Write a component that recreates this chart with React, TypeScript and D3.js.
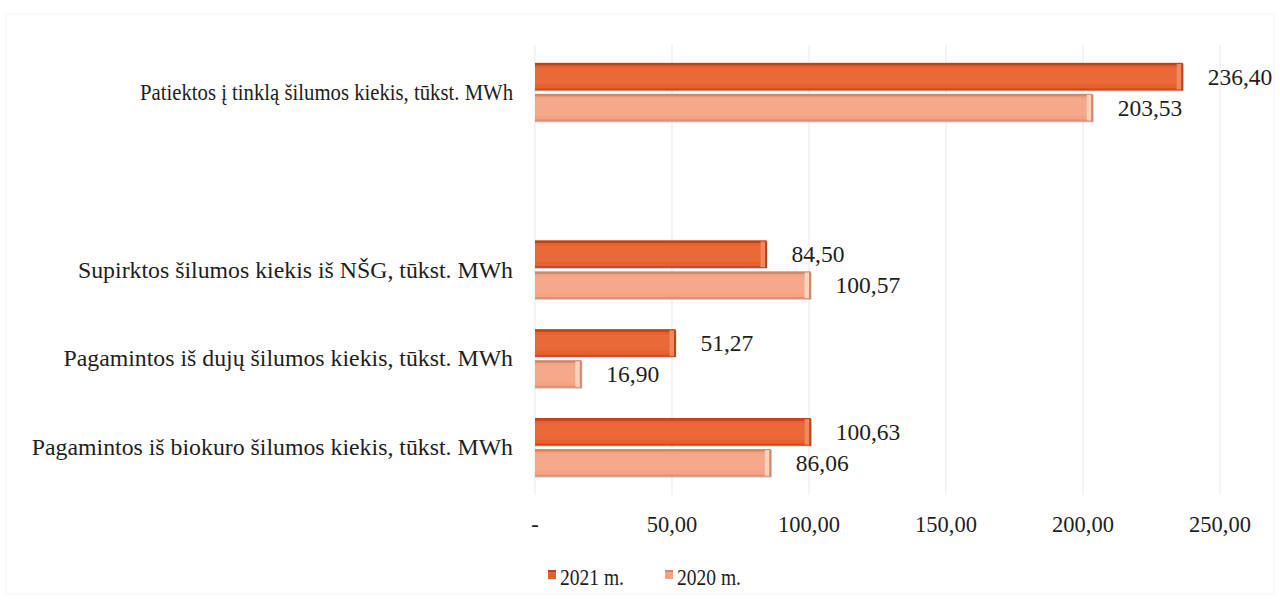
import React from "react";
import * as d3 from "d3";

const categories = [
  "Patiektos į tinklą šilumos kiekis, tūkst. MWh",
  "",
  "Supirktos šilumos kiekis iš NŠG, tūkst. MWh",
  "Pagamintos iš dujų šilumos kiekis, tūkst. MWh",
  "Pagamintos iš biokuro šilumos kiekis, tūkst. MWh",
];
const values2021: (number | null)[] = [236.4, null, 84.5, 51.27, 100.63];
const values2020: (number | null)[] = [203.53, null, 100.57, 16.9, 86.06];
const seriesNames = ["2021 m.", "2020 m."];
const xTicks = [0, 50, 100, 150, 200, 250];

// widths of the (horizontally squeezed) scanned labels, null = natural width
const labelLengths: (number | null)[] = [373, null, null, null, null];

const W = 1280;
const H = 600;
const FONT = "'Liberation Serif', 'Times New Roman', serif";
const colors = [
  { main: "#E8602E", light: "#EF7A4C", edge: "#B9451C", cap: "#F08A5E" },
  { main: "#F5A383", light: "#F8B598", edge: "#CF8A6E", cap: "#FBD2BE" },
];

const fmt = (v: number) => (v === 0 ? "-" : v.toFixed(2).replace(".", ","));

export default function App() {
  const x = d3.scaleLinear().domain([0, 250]).range([535, 1220]);
  const y = d3.scaleBand<string>().domain(categories.map((c, i) => i + "")).range([47.5, 491.5]);
  const barH = 27.5;
  const series = [values2021, values2020];

  return (
    <svg
      width={W}
      height={H}
      style={{ position: "absolute", left: 0, top: 0, background: "#fff" }}
      fontFamily={FONT}
    >
      <rect x={6} y={14} width={1268} height={580} fill="none" stroke="#f3f3f3" strokeWidth={1} />
      {xTicks.map((t) => (
        <line key={t} x1={x(t)} x2={x(t)} y1={45} y2={495} stroke="#ececec" strokeWidth={1.2} />
      ))}
      {categories.map((c, i) => {
        const cy = (y(i + "") as number) + y.bandwidth() / 2;
        const len = labelLengths[i];
        return (
          <g key={i}>
            {c && (
              <text
                x={513}
                y={cy}
                textAnchor="end"
                dominantBaseline="central"
                fontSize={23.8}
                fill="#1e1e1e"
                {...(len ? { textLength: len, lengthAdjust: "spacingAndGlyphs" } : {})}
              >
                {c}
              </text>
            )}
            {series.map((vals, s) => {
              const v = vals[i];
              if (v == null) return null;
              const by = cy - barH - 1.5 + s * (barH + 3.5);
              const x0 = x(0);
              const x1 = x(v);
              const col = colors[s];
              return (
                <g key={s}>
                  <rect x={x0} y={by + 1} width={x1 - x0 + 1} height={barH} fill="#9a9a9a" opacity={0.45} />
                  <rect x={x0} y={by} width={x1 - x0} height={barH} fill={col.main} />
                  <rect x={x0} y={by} width={x1 - x0} height={2.5} fill={col.edge} />
                  <rect x={x0} y={by + barH - 2} width={x1 - x0} height={2} fill={col.edge} opacity={0.7} />
                  <rect x={x0} y={by + 5} width={x1 - x0} height={barH - 11} fill={col.light} opacity={0.35} />
                  <rect x={x1 - 6} y={by + 1} width={5} height={barH - 2} fill={col.cap} />
                  <rect x={x1 - 1.5} y={by + 1} width={2} height={barH - 1} fill={col.edge} />
                  <text
                    x={x1 + 25}
                    y={by + barH / 2}
                    dominantBaseline="central"
                    fontSize={23.5}
                    fill="#1e1e1e"
                  >
                    {fmt(v)}
                  </text>
                </g>
              );
            })}
          </g>
        );
      })}
      {xTicks.map((t) => (
        <text key={t} x={x(t)} y={524} textAnchor="middle" dominantBaseline="central" fontSize={22.5} fill="#1e1e1e">
          {fmt(t)}
        </text>
      ))}
      {seriesNames.map((n, s) => {
        const lx = [548, 665][s];
        return (
          <g key={n}>
            <rect x={lx} y={570} width={8} height={9} fill={colors[s].main} />
            <rect x={lx} y={570} width={8} height={2} fill={colors[s].edge} />
            <text
              x={lx + 12}
              y={577}
              dominantBaseline="central"
              fontSize={22.5}
              fill="#1e1e1e"
              textLength={64}
              lengthAdjust="spacingAndGlyphs"
            >
              {n}
            </text>
          </g>
        );
      })}
    </svg>
  );
}
